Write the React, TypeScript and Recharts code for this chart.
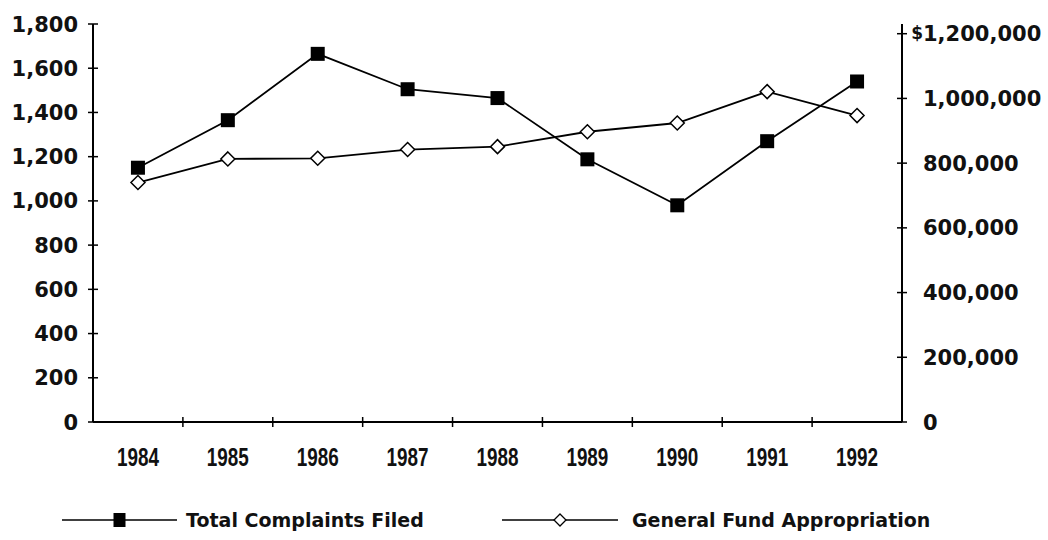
import React from 'react';
import { ComposedChart, Line, XAxis, YAxis, Legend } from 'recharts';

const years = ['1984', '1985', '1986', '1987', '1988', '1989', '1990', '1991', '1992'];
const complaintsFiled = [1150, 1365, 1665, 1505, 1465, 1188, 980, 1270, 1540];
const fundAppropriation = [740000, 813000, 815000, 842000, 851000, 897000, 924000, 1021000, 947000];

const complaintTicks = [0, 200, 400, 600, 800, 1000, 1200, 1400, 1600, 1800];
const fundTicks = [0, 200000, 400000, 600000, 800000, 1000000, 1200000];

const data = years.map((year, i) => ({
  year,
  complaints: complaintsFiled[i],
  fund: fundAppropriation[i],
}));

const WIDTH = 1048;
const HEIGHT = 540;
const PLOT_LEFT = 93;
const PLOT_RIGHT = 902;
const PLOT_TOP = 24;
const LEGEND_HEIGHT = 40;
const XAXIS_HEIGHT = 78;
const PLOT_BOTTOM = HEIGHT - LEGEND_HEIGHT - XAXIS_HEIGHT;
const BAND = (PLOT_RIGHT - PLOT_LEFT) / years.length;

const numFont = 'DejaVu Sans, Verdana, sans-serif';
const yearFont = '"Liberation Sans", Arial, sans-serif';

const fmt = (v: number) => v.toLocaleString('en-US');

// left axis label + a tick that crosses the axis line
const LeftTick = (props: any) => {
  const { y, payload } = props;
  return (
    <g>
      <line x1={PLOT_LEFT - 5} x2={PLOT_LEFT + 5} y1={y} y2={y} stroke="#000" strokeWidth={1.5} />
      <text x={78} y={y} dy="0.36em" textAnchor="end" fontFamily={numFont} fontWeight={700} fontSize={21} fill="#111">
        {fmt(payload.value)}
      </text>
    </g>
  );
};

const RightTick = (props: any) => {
  const { y, payload } = props;
  const isTop = payload.value === fundTicks[fundTicks.length - 1];
  return (
    <g>
      <line x1={PLOT_RIGHT - 5} x2={PLOT_RIGHT + 5} y1={y} y2={y} stroke="#000" strokeWidth={1.5} />
      {isTop && (
        <text x={923} y={y} dy="0.3em" textAnchor="end" fontFamily={numFont} fontWeight={700} fontSize={17} fill="#111">
          $
        </text>
      )}
      <text x={923} y={y} dy="0.36em" textAnchor="start" fontFamily={numFont} fontWeight={700} fontSize={21} fill="#111">
        {fmt(payload.value)}
      </text>
    </g>
  );
};

// category labels sit in the middle of each band, tick marks on the band edges
const YearTick = (props: any) => {
  const { x, payload, index } = props;
  const edge = x + BAND / 2;
  const last = index === years.length - 1;
  return (
    <g>
      {!last && (
        <line x1={edge} x2={edge} y1={PLOT_BOTTOM - 5} y2={PLOT_BOTTOM + 5} stroke="#000" strokeWidth={1.5} />
      )}
      <text
        x={x}
        y={PLOT_BOTTOM + 44}
        textAnchor="middle"
        fontFamily={yearFont}
        fontWeight={700}
        fontSize={25}
        textLength={42}
        lengthAdjust="spacingAndGlyphs"
        fill="#111"
      >
        {payload.value}
      </text>
    </g>
  );
};

const SquareDot = (props: any) => {
  const { cx, cy, index } = props;
  if (cx == null || cy == null) return <g key={`sq-${index}`} />;
  return <rect key={`sq-${index}`} x={cx - 7} y={cy - 7} width={14} height={14} fill="#000" />;
};

const DiamondDot = (props: any) => {
  const { cx, cy, index } = props;
  if (cx == null || cy == null) return <g key={`dm-${index}`} />;
  return (
    <path
      key={`dm-${index}`}
      d={`M${cx},${cy - 7} L${cx + 7},${cy} L${cx},${cy + 7} L${cx - 7},${cy} Z`}
      fill="#fff"
      stroke="#000"
      strokeWidth={1.5}
    />
  );
};

const legendSpots = [
  { line: [62, 177], text: 186 },
  { line: [502, 618], text: 632 },
];

const renderLegend = (props: any) => {
  const items = props.payload || [];
  const ordered = ['complaints', 'fund']
    .map((key) => items.find((p: any) => p.dataKey === key))
    .filter(Boolean);
  const cy = 20;
  return (
    <svg width={WIDTH} height={LEGEND_HEIGHT} style={{ display: 'block' }}>
      {ordered.map((entry: any, i: number) => {
        const spot = legendSpots[i];
        const mid = (spot.line[0] + spot.line[1]) / 2;
        return (
          <g key={entry.dataKey}>
            <line x1={spot.line[0]} x2={spot.line[1]} y1={cy} y2={cy} stroke="#000" strokeWidth={1.5} />
            {entry.dataKey === 'complaints' ? (
              <rect x={mid - 6} y={cy - 7} width={12} height={14} fill="#000" />
            ) : (
              <path
                d={`M${mid},${cy - 6} L${mid + 6},${cy} L${mid},${cy + 6} L${mid - 6},${cy} Z`}
                fill="#fff"
                stroke="#000"
                strokeWidth={1.3}
              />
            )}
            <text x={spot.text} y={cy} dy="0.36em" fontFamily={numFont} fontWeight={700} fontSize={19} fill="#111">
              {entry.value}
            </text>
          </g>
        );
      })}
    </svg>
  );
};

export default function App() {
  return (
    <div style={{ position: 'absolute', left: 0, top: 0, width: WIDTH, height: HEIGHT, background: '#fff' }}>
      <ComposedChart
        width={WIDTH}
        height={HEIGHT}
        data={data}
        margin={{ top: PLOT_TOP, right: 0, bottom: 0, left: 0 }}
      >
        <XAxis
          dataKey="year"
          scale="band"
          height={XAXIS_HEIGHT}
          tickLine={false}
          axisLine={{ stroke: '#000', strokeWidth: 2 }}
          tick={YearTick}
          interval={0}
        />
        <YAxis
          yAxisId="left"
          orientation="left"
          width={PLOT_LEFT}
          domain={[0, 1800]}
          ticks={complaintTicks}
          tickLine={false}
          axisLine={{ stroke: '#000', strokeWidth: 2 }}
          tick={LeftTick}
          interval={0}
        />
        <YAxis
          yAxisId="right"
          orientation="right"
          width={WIDTH - PLOT_RIGHT}
          domain={[0, 1230000]}
          ticks={fundTicks}
          tickLine={false}
          axisLine={{ stroke: '#000', strokeWidth: 2 }}
          tick={RightTick}
          interval={0}
        />
        <Legend
          verticalAlign="bottom"
          height={LEGEND_HEIGHT}
          wrapperStyle={{ left: 0, width: WIDTH }}
          content={renderLegend}
        />
        <Line
          yAxisId="left"
          dataKey="complaints"
          name="Total Complaints Filed"
          stroke="#000"
          strokeWidth={1.8}
          dot={SquareDot}
          activeDot={false}
          isAnimationActive={false}
        />
        <Line
          yAxisId="right"
          dataKey="fund"
          name="General Fund Appropriation"
          stroke="#000"
          strokeWidth={1.8}
          dot={DiamondDot}
          activeDot={false}
          isAnimationActive={false}
        />
      </ComposedChart>
    </div>
  );
}
